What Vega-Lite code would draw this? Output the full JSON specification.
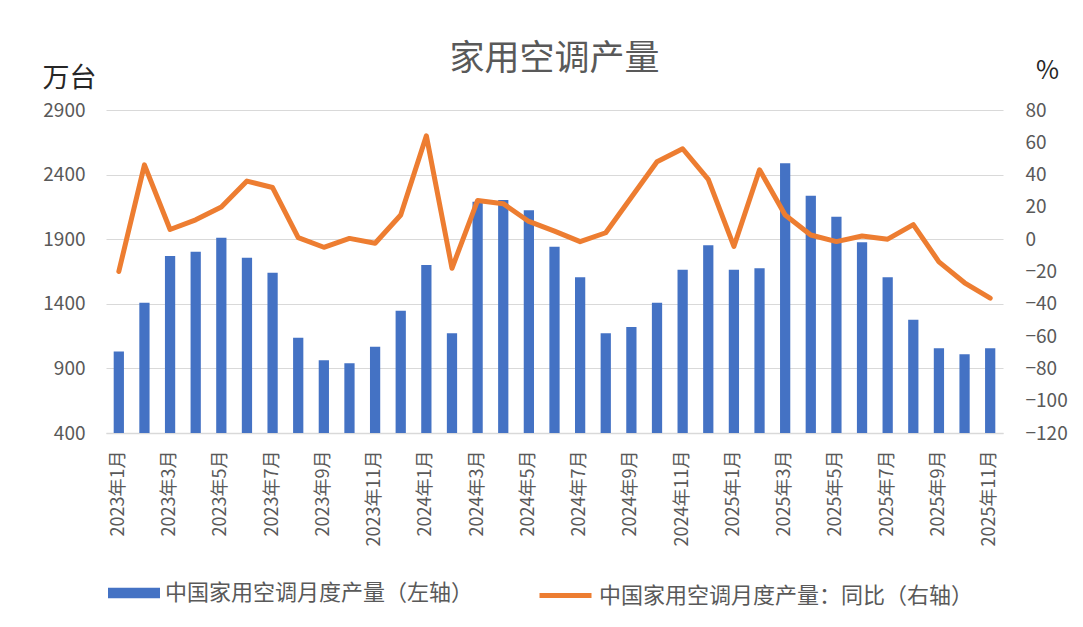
{
  "$schema": "https://vega.github.io/schema/vega-lite/v6.json",
  "width": 897,
  "height": 323,
  "autosize": {"type": "none"},
  "padding": {"left": 106, "top": 110, "right": 80, "bottom": 194},
  "background": "white",
  "config": {
    "font": "Noto Sans CJK SC",
    "view": {"stroke": null},
    "axis": {"labelFont": "Noto Sans CJK SC", "titleFont": "Noto Sans CJK SC"}
  },
  "title": {
    "text": "家用空调产量",
    "fontSize": 35,
    "fontWeight": "normal",
    "color": "#595959",
    "anchor": "middle",
    "frame": "group",
    "offset": 0,
    "dy": 19
  },
  "data": {
    "values": [
      {"month": "2023年1月", "output": 1030, "yoy": -20},
      {"month": "2023年2月", "output": 1408, "yoy": 46},
      {"month": "2023年3月", "output": 1770, "yoy": 6},
      {"month": "2023年4月", "output": 1803, "yoy": 12},
      {"month": "2023年5月", "output": 1912, "yoy": 20},
      {"month": "2023年6月", "output": 1757, "yoy": 36},
      {"month": "2023年7月", "output": 1641, "yoy": 32},
      {"month": "2023年8月", "output": 1138, "yoy": 1},
      {"month": "2023年9月", "output": 963, "yoy": -5},
      {"month": "2023年10月", "output": 939, "yoy": 0.5},
      {"month": "2023年11月", "output": 1068, "yoy": -2.5},
      {"month": "2023年12月", "output": 1347, "yoy": 15},
      {"month": "2024年1月", "output": 1700, "yoy": 64},
      {"month": "2024年2月", "output": 1172, "yoy": -18},
      {"month": "2024年3月", "output": 2190, "yoy": 24},
      {"month": "2024年4月", "output": 2203, "yoy": 22},
      {"month": "2024年5月", "output": 2124, "yoy": 11},
      {"month": "2024年6月", "output": 1842, "yoy": 5},
      {"month": "2024年7月", "output": 1605, "yoy": -1.5},
      {"month": "2024年8月", "output": 1172, "yoy": 4},
      {"month": "2024年9月", "output": 1220, "yoy": 26},
      {"month": "2024年10月", "output": 1408, "yoy": 48},
      {"month": "2024年11月", "output": 1664, "yoy": 56},
      {"month": "2024年12月", "output": 1853, "yoy": 37},
      {"month": "2025年1月", "output": 1664, "yoy": -4.5},
      {"month": "2025年2月", "output": 1675, "yoy": 43},
      {"month": "2025年3月", "output": 2487, "yoy": 15},
      {"month": "2025年4月", "output": 2237, "yoy": 2.6},
      {"month": "2025年5月", "output": 2074, "yoy": -1.5},
      {"month": "2025年6月", "output": 1876, "yoy": 2},
      {"month": "2025年7月", "output": 1605, "yoy": 0},
      {"month": "2025年8月", "output": 1277, "yoy": 9},
      {"month": "2025年9月", "output": 1055, "yoy": -14},
      {"month": "2025年10月", "output": 1009, "yoy": -27},
      {"month": "2025年11月", "output": 1055, "yoy": -36.5}
    ]
  },
  "encoding": {
    "x": {
      "field": "month",
      "type": "nominal",
      "sort": null,
      "scale": {"paddingInner": 0.6, "paddingOuter": 0.3},
      "axis": {
        "title": null,
        "values": ["2023年1月","2023年3月","2023年5月","2023年7月","2023年9月","2023年11月","2024年1月","2024年3月","2024年5月","2024年7月","2024年9月","2024年11月","2025年1月","2025年3月","2025年5月","2025年7月","2025年9月","2025年11月"],
        "labelAngle": -90,
        "labelFontSize": 18,
        "labelColor": "#595959",
        "labelPadding": 17,
        "ticks": false,
        "domainColor": "#d9d9d9",
        "domainWidth": 1.5,
        "grid": false
      }
    }
  },
  "layer": [
    {
      "mark": {"type": "bar", "color": "#4472C4", "clip": true},
      "encoding": {
        "y": {
          "field": "output",
          "type": "quantitative",
          "scale": {"domain": [400, 2900], "zero": false, "nice": false},
          "axis": {
            "title": "万台",
            "titleAngle": 0,
            "titleX": -37,
            "titleY": -32,
            "titleAlign": "center",
            "titleBaseline": "middle",
            "titleFontSize": 27,
            "titleFontWeight": "normal",
            "titleColor": "#262626",
            "values": [400, 900, 1400, 1900, 2400, 2900],
            "format": "d",
            "labelFontSize": 19,
            "labelColor": "#595959",
            "labelPadding": 21,
            "ticks": false,
            "domain": false,
            "grid": true,
            "gridColor": "#d9d9d9",
            "gridWidth": 1.2
          }
        },
        "fill": {
          "datum": "中国家用空调月度产量（左轴）",
          "type": "nominal",
          "scale": {"range": ["#4472C4"]},
          "legend": {
            "title": null,
            "orient": "none",
            "legendX": 2,
            "legendY": 457,
            "symbolType": "M-1,-0.2H1V0.2H-1Z",
            "symbolSize": 2704,
            "symbolStrokeWidth": 0,
            "labelFontSize": 22,
            "labelColor": "#595959",
            "labelOffset": 5,
            "labelLimit": 500
          }
        }
      }
    },
    {
      "mark": {"type": "line", "color": "#ED7D31", "strokeWidth": 5, "strokeJoin": "round", "strokeCap": "round"},
      "encoding": {
        "y": {
          "field": "yoy",
          "type": "quantitative",
          "scale": {"domain": [-120, 80], "nice": false},
          "axis": {
            "orient": "right",
            "title": "%",
            "titleAngle": 0,
            "titleX": 44,
            "titleY": -40,
            "titleAlign": "center",
            "titleBaseline": "middle",
            "titleFontSize": 25,
            "titleFontWeight": "normal",
            "titleColor": "#262626",
            "values": [-120, -100, -80, -60, -40, -20, 0, 20, 40, 60, 80],
            "labelFontSize": 19,
            "labelColor": "#595959",
            "labelPadding": 22,
            "ticks": false,
            "domain": false,
            "grid": false
          }
        },
        "stroke": {
          "datum": "中国家用空调月度产量：同比（右轴）",
          "type": "nominal",
          "scale": {"range": ["#ED7D31"]},
          "legend": {
            "title": null,
            "orient": "none",
            "legendX": 431,
            "legendY": 457,
            "symbolType": "stroke",
            "symbolSize": 2704,
            "symbolStrokeWidth": 5,
            "labelFontSize": 22,
            "labelColor": "#595959",
            "labelOffset": 5,
            "labelLimit": 500
          }
        }
      }
    }
  ],
  "resolve": {"scale": {"y": "independent"}}
}
